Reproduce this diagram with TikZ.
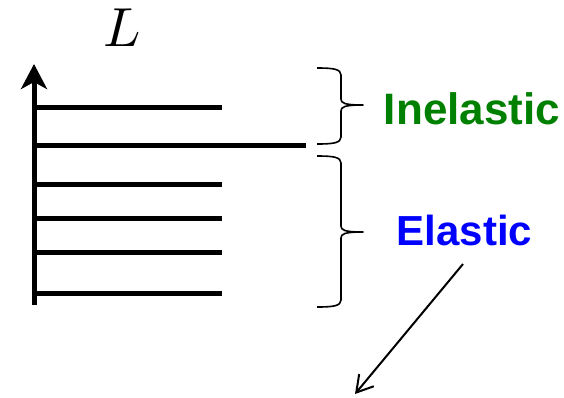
\documentclass[tikz,border=0pt]{standalone}
\usepackage{fontspec}
\usepackage{graphicx}
\setsansfont{Liberation Sans}
\usetikzlibrary{arrows.meta}
\definecolor{inelgreen}{RGB}{0,128,0}
\definecolor{elblue}{RGB}{0,0,255}
\tikzset{
  level/.style={line width=5pt},
  axisline/.style={line width=5pt,-{Stealth[length=25pt,width=26pt,inset=7pt]}},
  bracket/.style={line width=1.6pt,line join=round},
  tag/.style={font=\sffamily\bfseries,anchor=base,inner sep=0pt},
  pointer/.style={line width=2pt,-{Straight Barb[length=16pt,width=19pt]}}
}
% right-hand curly brace: end x, spine x, tip x, top y, tip y, bottom y
\newcommand\rightcurly[6]{%
  \draw[bracket] (#1,#4) .. controls ({#1+16},#4) and (#2,{#4+1}) .. (#2,{#4+7})
    -- (#2,{#5-6}) .. controls (#2,{#5-2}) and ({#2+3},#5) .. (#3,#5)
    .. controls ({#2+3},#5) and (#2,{#5+2}) .. (#2,{#5+6})
    -- (#2,{#6-7}) .. controls (#2,{#6-1}) and ({#1+16},#6) .. (#1,#6);}
\begin{document}
\begin{tikzpicture}[x=1pt,y=-1pt]
  \useasboundingbox (0,0) rectangle (564,397);
  % axis
  \coordinate (axB) at (34,305);
  \coordinate (axT) at (34,64);
  \draw[axisline] (axB) -- (axT);
  \node[anchor=base,inner sep=0pt] (lab) at (122,46) {\scalebox{5.5}{$L$}};
  % levels
  \foreach \y/\x/\n in {107/222/a,145/306/b,184/222/c,218/222/d,252/222/e,293/222/f}{
    \coordinate (s\n) at (34,\y);
    \coordinate (e\n) at (\x,\y);
    \draw[level] (s\n) -- (e\n);
  }
  % braces
  \rightcurly{317}{341}{363}{68}{105}{144}
  \rightcurly{317}{341}{363}{156}{232}{307}
  % labels
  \node[tag,text=inelgreen,font=\fontsize{44}{50}\sffamily\bfseries] (inel) at (472,124) {Inelastic};
  \node[tag,text=elblue,font=\fontsize{42}{48}\sffamily\bfseries] (el) at (464.5,245) {Elastic};
  % pointer
  \coordinate (p1) at (463,264);
  \coordinate (p2) at (355,394);
  \draw[pointer] (p1) -- (p2);
\end{tikzpicture}
\end{document}
